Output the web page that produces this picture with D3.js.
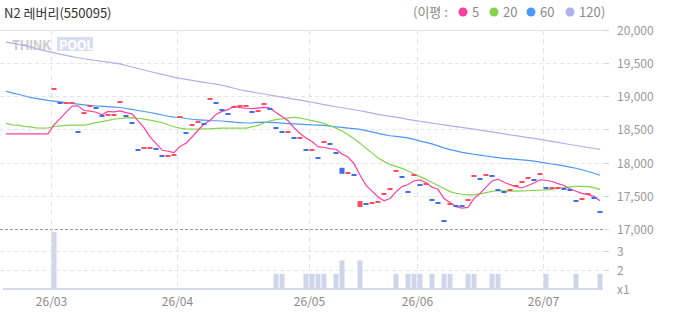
<!DOCTYPE html>
<html><head><meta charset="utf-8">
<script src="https://cdn.jsdelivr.net/npm/d3@7"></script>
<style>
body{margin:0;background:#fff}
svg{display:block}
text{font-family:"Noto Sans CJK KR","Noto Sans",sans-serif}
</style>
</head><body>
<svg id="chart" width="673" height="315"></svg>
<script>
const title = "N2 레버리(550095)";
const dates = [
"26/02/13","26/02/19","26/02/20","26/02/23","26/02/24","26/02/25","26/02/26","26/02/27",
"26/03/03","26/03/04","26/03/05","26/03/06","26/03/09","26/03/10","26/03/11","26/03/12","26/03/13","26/03/16","26/03/17","26/03/18","26/03/19","26/03/20","26/03/23","26/03/24","26/03/25","26/03/26","26/03/27","26/03/30","26/03/31",
"26/04/01","26/04/02","26/04/03","26/04/06","26/04/07","26/04/08","26/04/09","26/04/10","26/04/13","26/04/14","26/04/15","26/04/16","26/04/17","26/04/20","26/04/21","26/04/22","26/04/23","26/04/24","26/04/27","26/04/28","26/04/29","26/04/30",
"26/05/04","26/05/06","26/05/07","26/05/08","26/05/11","26/05/12","26/05/13","26/05/14","26/05/15","26/05/18","26/05/19","26/05/20","26/05/21","26/05/22","26/05/26","26/05/27","26/05/28","26/05/29",
"26/06/01","26/06/02","26/06/04","26/06/05","26/06/08","26/06/09","26/06/10","26/06/11","26/06/12","26/06/15","26/06/16","26/06/17","26/06/18","26/06/19","26/06/22","26/06/23","26/06/24","26/06/25","26/06/26","26/06/29","26/06/30",
"26/07/01","26/07/02","26/07/03","26/07/06","26/07/07","26/07/08","26/07/09","26/07/10","26/07/13","26/07/14"
];
const closeP = [
null,null,null,null,null,null,null,null,
19105,18900,18900,18900,18460,18750,18850,18820,18700,18720,
18720,18915,18700,18600,18190,18220,18220,18205,18100,18100,
18115,18690,18445,18565,18610,18580,18960,18900,18795,18735,
18840,18855,18855,18765,18780,18885,18810,18520,18460,18460,
18370,18370,18190,18190,18070,18310,18280,18145,17830,17845,
17815,17420,17375,17390,17405,17525,17600,17875,17785,17555,
17815,17665,17680,17435,17390,17120,17375,17350,17340,17435,
17800,17755,17815,17800,17585,17555,17585,17650,17710,17770,
17740,17830,17615,17615,17615,17600,17585,17420,17455,17525,
17465,17255];
const openP = [
null,null,null,null,null,null,null,null,
19105,18900,18900,18900,18460,18750,18850,18820,18700,18720,
18720,18915,18700,18600,18190,18220,18220,18205,18100,18100,
18115,18690,18445,18565,18610,18580,18960,18900,18795,18735,
18840,18855,18855,18765,18780,18885,18810,18520,18460,18460,
18370,18370,18190,18190,18070,18310,18280,18145,17920,17845,
17815,17330,17375,17390,17405,17525,17600,17875,17785,17555,
17815,17665,17680,17435,17390,17120,17375,17350,17340,17435,
17800,17755,17815,17800,17585,17555,17585,17650,17710,17770,
17740,17830,17615,17615,17615,17600,17585,17420,17455,17525,
17465,17255];
const ma5 = [
18430,18430,18430,18430,18430,18430,18430,18430,
18565,18659,18753,18847,18853,18782,18772,18756,18716,18768,
18762,18775,18751,18731,18625,18525,18386,18287,18187,18169,
18148,18242,18290,18383,18485,18578,18632,18723,18769,18794,
18846,18825,18816,18810,18819,18828,18819,18752,18691,18627,
18524,18436,18370,18316,18238,18226,18208,18199,18127,18082,
17983,17811,17657,17569,17481,17423,17459,17559,17638,17668,
17726,17739,17700,17630,17597,17458,17400,17334,17315,17324,
17460,17536,17629,17721,17751,17702,17668,17635,17617,17654,
17691,17740,17733,17714,17683,17655,17606,17567,17535,17517,
17490,17424];
const ma20 = [
18590,18565,18562,18544,18537,18521,18517,18521,18541,18552,
18559,18562,18562,18562,18577,18600,18615,18634,18650,18662,
18672,18675,18665,18653,18637,18619,18601,18567,18537,18517,
18506,18502,18502,18506,18506,18514,18517,18517,18517,18517,
18517,18537,18559,18594,18627,18645,18657,18672,18680,18668,
18650,18630,18612,18589,18552,18514,18476,18416,18356,18291,
18213,18145,18069,18017,17971,17941,17911,17873,17828,17788,
17746,17700,17655,17610,17562,17538,17523,17512,17512,17527,
17547,17565,17575,17572,17569,17569,17572,17575,17580,17583,
17588,17595,17613,17624,17633,17640,17642,17636,17621,17595];
const ma60 = [
19072,19046,19026,19004,18978,18963,18949,18933,18922,18913,
18901,18889,18877,18867,18858,18850,18844,18839,18833,18827,
18812,18799,18782,18767,18752,18734,18714,18695,18683,18677,
18662,18650,18642,18636,18631,18628,18624,18615,18606,18600,
18594,18597,18604,18606,18603,18600,18592,18586,18582,18576,
18570,18565,18562,18558,18547,18537,18527,18518,18509,18499,
18479,18461,18439,18419,18402,18392,18381,18371,18348,18322,
18303,18280,18250,18220,18194,18175,18152,18137,18124,18110,
18098,18084,18074,18063,18054,18047,18039,18032,18020,18006,
17991,17977,17964,17950,17931,17913,17891,17864,17839,17809];
const ma120 = [
19809,19794,19778,19760,19739,19712,19690,19670,19649,19629,
19610,19592,19575,19560,19546,19534,19522,19509,19495,19482,
19459,19436,19414,19391,19369,19346,19325,19305,19284,19265,
19250,19234,19219,19206,19192,19179,19162,19140,19117,19094,
19078,19061,19045,19030,19014,18999,18984,18969,18954,18939,
18922,18906,18889,18871,18855,18838,18823,18808,18793,18778,
18760,18742,18724,18709,18695,18681,18666,18648,18633,18620,
18606,18592,18579,18565,18552,18540,18528,18514,18501,18487,
18473,18460,18446,18431,18416,18404,18390,18375,18362,18347,
18332,18317,18302,18286,18271,18256,18241,18226,18211,18196];
const volume = [
0,0,0,0,0,0,0,0,4,0,
0,0,0,0,0,0,0,0,0,0,
0,0,0,0,0,0,0,0,0,0,
0,0,0,0,0,0,0,0,0,0,
0,0,0,0,0,1.8,1.8,0,0,0,
1.8,1.8,1.8,1.8,0,1.8,2.5,0,0,2.5,
0,0,0,0,0,1.8,0,1.8,1.8,1.8,
0,1.8,0,1.8,1.8,0,0,1.8,1.8,0,
0,1.8,1.8,0,0,0,0,0,0,0,
1.8,0,0,0,0,1.8,0,0,0,1.8];
const priceTicks = [17000,17500,18000,18500,19000,19500,20000];
const volTicks = [2,3];
const maNames = ["5","20","60","120"];

const maColors = ["#ff3fa0","#86d34f","#4e98f4","#b0b0ec"];
const svg = d3.select("#chart");
const x = d3.scaleBand().domain(dates).range([3,603]);
const bw = x.bandwidth();
const y = d3.scaleLinear().domain([17000,20000]).range([229,29.5]);
const yv = d3.scaleLinear().domain([1,4]).range([289,232]);
const fmt = d3.format(",");
const cx = d => x(d) + bw/2;

// watermark
const wm = svg.append("g").attr("opacity",0.9);
wm.append("text").attr("x",12).attr("y",49.5).attr("font-size",13).attr("font-weight","bold")
  .attr("fill","#c8c8c8").attr("font-family","'DejaVu Sans',sans-serif").attr("letter-spacing",-0.5).text("THINK");
wm.append("rect").attr("x",57).attr("y",37).attr("width",36).attr("height",14).attr("fill","#d3dbf1");
wm.append("text").attr("x",59).attr("y",49.5).attr("font-size",13).attr("font-weight","bold")
  .attr("fill","#ffffff").attr("font-family","'DejaVu Sans',sans-serif").attr("letter-spacing",-0.5).text("POOL");

// horizontal gridlines
priceTicks.forEach(t => {
  const yy = Math.round(y(t)) + 0.5;
  let stroke = "#e6e6e6", dash = "4,3";
  if (t === 20000) { stroke = "#e0e0e0"; dash = null; }
  if (t === 17000) { stroke = "#999999"; dash = "3,2"; }
  svg.append("line").attr("x1",0).attr("x2",605).attr("y1",yy).attr("y2",yy)
    .attr("stroke",stroke).attr("stroke-dasharray",dash);
  svg.append("line").attr("x1",605).attr("x2",609).attr("y1",yy).attr("y2",yy).attr("stroke","#d5d5d5");
  svg.append("text").attr("x",617).attr("y",yy).attr("dy","0.35em").attr("font-size",12)
    .attr("fill","#999").text(fmt(t));
});
volTicks.forEach(t => {
  const yy = Math.round(yv(t)) + 0.5;
  svg.append("line").attr("x1",0).attr("x2",605).attr("y1",yy).attr("y2",yy)
    .attr("stroke","#e6e6e6").attr("stroke-dasharray","4,3");
  svg.append("line").attr("x1",605).attr("x2",609).attr("y1",yy).attr("y2",yy).attr("stroke","#d5d5d5");
  svg.append("text").attr("x",617).attr("y",yy).attr("dy","0.35em").attr("font-size",12)
    .attr("fill","#999").text(t);
});
svg.append("text").attr("x",617).attr("y",yv(1)+1).attr("dy","0.35em").attr("font-size",12)
  .attr("fill","#999").text("x1");

// month gridlines and labels
const monthStarts = dates.filter((d,i) => i > 0 && d.slice(0,5) !== dates[i-1].slice(0,5));
monthStarts.forEach(d => {
  const xx = Math.round(x(d)) + 0.5;
  svg.append("line").attr("x1",xx).attr("x2",xx).attr("y1",30).attr("y2",289)
    .attr("stroke","#e3e3e3").attr("stroke-dasharray","5,4");
  svg.append("text").attr("x",xx).attr("y",302).attr("dy","0.35em").attr("text-anchor","middle")
    .attr("font-size",12).attr("fill","#8a8a8a").text(d.slice(0,5));
});

// volume
svg.append("rect").attr("x",3).attr("y",288).attr("width",600).attr("height",2).attr("fill","#d4d9ea");
svg.append("g").selectAll("rect").data(dates.filter((d,i)=>volume[i]>0)).join("rect")
  .attr("x", d => x(d)+0.5).attr("width", bw-1)
  .attr("y", d => yv(volume[dates.indexOf(d)]))
  .attr("height", d => 290 - yv(volume[dates.indexOf(d)]))
  .attr("fill","#d0d6e9");

// moving averages
[ma120, ma60, ma20, ma5].forEach((arr, j) => {
  const col = maColors[3-j];
  const line = d3.line().x((v,i) => cx(dates[i])).y(v => y(v));
  svg.append("path").attr("d", line(arr)).attr("fill","none").attr("stroke",col).attr("stroke-width",1.2);
});

// candles
const candles = dates.map((d,i) => ({d, o: openP[i], c: closeP[i], p: i>0 ? closeP[i-1] : null}))
  .filter(e => e.c !== null);
svg.append("g").selectAll("rect").data(candles).join("rect")
  .attr("x", e => x(e.d)+0.5).attr("width", bw-1)
  .attr("y", e => {
    const a = y(Math.max(e.o,e.c)), b = y(Math.min(e.o,e.c));
    return (b - a) < 2 ? Math.round(y(e.c)) - 1 : a;
  })
  .attr("height", e => Math.max(2, y(Math.min(e.o,e.c)) - y(Math.max(e.o,e.c))))
  .attr("fill", e => {
    if (e.c > e.o) return "#ff4b5f";
    if (e.c < e.o) return "#3d6fe6";
    return (e.p === null || e.c >= e.p) ? "#ff4b5f" : "#3d6fe6";
  });

// title
svg.append("text").attr("x",4).attr("y",13).attr("dy","0.35em").attr("font-size",13)
  .attr("fill","#333").text(title);

// legend
const lg = svg.append("g").attr("font-size",13).attr("fill","#8a8a8a");
lg.append("text").attr("x",413).attr("y",12).attr("dy","0.35em").text("(이평 :");
const dotX = [463,494,531,570];
maNames.forEach((n,i) => {
  lg.append("circle").attr("cx",dotX[i]).attr("cy",12).attr("r",4.5).attr("fill",maColors[i]);
  lg.append("text").attr("x",dotX[i]+9).attr("y",12).attr("dy","0.35em").text(n);
});
lg.append("text").attr("x",601).attr("y",12).attr("dy","0.35em").text(")");
</script>
</body></html>
